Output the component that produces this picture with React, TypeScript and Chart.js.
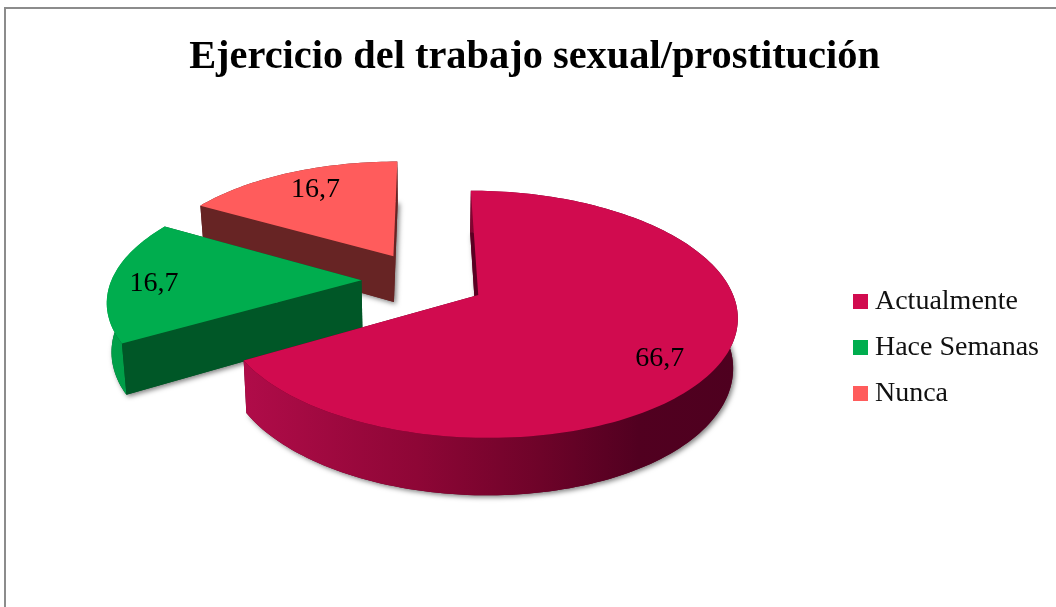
import React, { useEffect, useRef } from "react";
import { Chart, registerables } from "chart.js";

Chart.register(...registerables);

const categories = ["Actualmente", "Hace Semanas", "Nunca"];
const values = [66.7, 16.7, 16.7];
const topColors = ["#D10B4F", "#00AD4E", "#FF5C5C"];
const faceColors = ["#5a0022", "#005727", "#672424"];
const rimStops: [number, string][][] = [
  [[0, "#b00c49"], [0.35, "#8e0636"], [0.6, "#6e0329"], [0.8, "#510020"], [1, "#4e001f"]],
  [[0, "#00a049"], [1, "#007a38"]],
  [[0, "#672424"], [1, "#672424"]],
];
const titleText = "Ejercicio del trabajo sexual/prostitución";

const SERIF = '"Liberation Serif", serif';
const PERSPECTIVE = 0.154;
const Y_RATIO = 0.464;
const DEPTH_RATIO = 0.19;
const BOTTOM_SHRINK = 0.985;
const SHIFT_X = -7.5;
const SHIFT_Y = -67;
const LABEL_RADIUS = 0.79;
const LABEL_NUDGE = [[-8, 13], [-10, 3], [6, 1]];

const pie3d = {
  id: "pie3d",
  beforeDatasetDraw(chart: any) {
    const ctx: CanvasRenderingContext2D = chart.ctx;
    const arcs = chart.getDatasetMeta(0).data as any[];
    const base = arcs[0];
    const R: number = base.outerRadius;
    const cx = base.x + SHIFT_X;
    const cy = base.y + SHIFT_Y;
    const project = (u: number, v: number, low: boolean) => {
      const w = 1 - PERSPECTIVE * v;
      const x = (R * u) / w;
      const y = (R * Y_RATIO * v) / w;
      return low
        ? { x: cx + x * BOTTOM_SHRINK, y: cy + y + (R * DEPTH_RATIO) / w }
        : { x: cx + x, y: cy + y };
    };
    const outline = (pts: { x: number; y: number }[]) => {
      ctx.beginPath();
      pts.forEach((p, i) => (i ? ctx.lineTo(p.x, p.y) : ctx.moveTo(p.x, p.y)));
      ctx.closePath();
    };

    for (let i = arcs.length - 1; i >= 0; i--) {
      const arc = arcs[i];
      const mid = (arc.startAngle + arc.endAngle) / 2;
      const d = (arc.options.offset || 0) / R;
      const ox = d * Math.cos(mid);
      const oy = d * Math.sin(mid);
      const steps = Math.max(8, Math.round((arc.endAngle - arc.startAngle) * 40));
      const rim: [number, number][] = [];
      for (let s = 0; s <= steps; s++) {
        const a = arc.startAngle + ((arc.endAngle - arc.startAngle) * s) / steps;
        rim.push([ox + Math.cos(a), oy + Math.sin(a)]);
      }
      const top = [[ox, oy] as [number, number], ...rim].map(([u, v]) => project(u, v, false));
      const low = [[ox, oy] as [number, number], ...rim].map(([u, v]) => project(u, v, true));
      const first = rim[0];
      const last = rim[rim.length - 1];

      // soft shadow of the whole solid
      ctx.save();
      ctx.shadowColor = "rgba(0,0,0,0.5)";
      ctx.shadowBlur = 5;
      ctx.shadowOffsetX = 2;
      ctx.shadowOffsetY = 2;
      ctx.fillStyle = faceColors[i];
      outline(low);
      ctx.fill();
      ctx.restore();

      const wall = ([u, v]: [number, number]) => {
        ctx.fillStyle = faceColors[i];
        outline([project(ox, oy, false), project(u, v, false), project(u, v, true), project(ox, oy, true)]);
        ctx.fill();
      };
      const startFaces = Math.sin(arc.startAngle - Math.PI / 2) > 0.01;
      const endFaces = Math.sin(arc.endAngle + Math.PI / 2) > 0.01;

      // walls turned away from the viewer go behind the rim
      if (!startFaces) wall(first);
      if (!endFaces) wall(last);

      // outer rim
      const xs = top.map((p) => p.x);
      const grad = ctx.createLinearGradient(Math.min(...xs), 0, Math.max(...xs), 0);
      rimStops[i].forEach(([o, c]) => grad.addColorStop(o, c));
      ctx.fillStyle = grad;
      outline([...top.slice(1), ...low.slice(1).reverse()]);
      ctx.fill();

      if (startFaces) wall(first);
      if (endFaces) wall(last);

      // top face
      ctx.fillStyle = arc.options.backgroundColor;
      outline(top);
      ctx.fill();
    }

    // value labels
    ctx.save();
    ctx.font = `28px ${SERIF}`;
    ctx.fillStyle = "#000";
    ctx.textAlign = "center";
    ctx.textBaseline = "middle";
    arcs.forEach((arc, i) => {
      const mid = (arc.startAngle + arc.endAngle) / 2;
      const d = (arc.options.offset || 0) / R + LABEL_RADIUS;
      const p = project(d * Math.cos(mid), d * Math.sin(mid), false);
      ctx.fillText(String(values[i]).replace(".", ","), p.x + LABEL_NUDGE[i][0], p.y + LABEL_NUDGE[i][1]);
    });
    ctx.restore();
    return false;
  },
};

const makeSwatch = (color: string) => {
  const c = document.createElement("canvas");
  c.width = 15;
  c.height = 15;
  const g = c.getContext("2d")!;
  g.fillStyle = color;
  g.fillRect(0, 0, 15, 15);
  return c;
};

export default function App() {
  const ref = useRef<HTMLCanvasElement>(null);
  useEffect(() => {
    document.body.style.margin = "0";
    const swatches = topColors.map(makeSwatch);
    const chart = new Chart(ref.current!, {
      type: "pie",
      data: {
        labels: categories,
        datasets: [
          {
            data: values,
            backgroundColor: topColors,
            borderWidth: 0,
            offset: 62,
            radius: 250,
          } as any,
        ],
      },
      options: {
        responsive: false,
        animation: false,
        layout: { padding: { left: 20, right: 7, top: 0, bottom: 0 } },
        plugins: {
          tooltip: { enabled: false },
          title: {
            display: true,
            text: titleText,
            color: "#000",
            font: { family: SERIF, size: 40.4, weight: "bold" },
            padding: { top: 33, bottom: 6 },
            fullSize: true,
          },
          legend: {
            position: "right",
            fullSize: false,
            labels: {
              color: "#111",
              font: { family: SERIF, size: 28 },
              usePointStyle: true,
              pointStyleWidth: 1,
              boxHeight: 15,
              padding: 18,
              generateLabels: (c: any) =>
                (Chart as any).overrides.pie.plugins.legend.labels
                  .generateLabels(c)
                  .map((l: any, i: number) => ({ ...l, pointStyle: swatches[i] })),
            },
          },
        },
      } as any,
      plugins: [pie3d],
    });
    return () => chart.destroy();
  }, []);
  return (
    <div style={{ position: "absolute", left: 0, top: 0, width: 1056, height: 607, overflow: "hidden", background: "#fff" }}>
      <div
        style={{
          position: "absolute",
          left: 4,
          top: 7,
          right: 0,
          bottom: 0,
          borderLeft: "2px solid #8c8c8c",
          borderTop: "2px solid #8c8c8c",
        }}
      />
      <canvas ref={ref} width={1056} height={607} style={{ position: "absolute", left: 0, top: 0, display: "block" }} />
    </div>
  );
}
